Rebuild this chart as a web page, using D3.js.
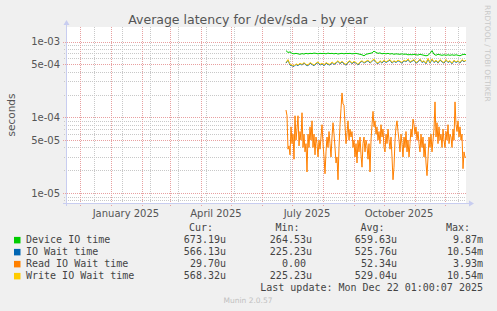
<!DOCTYPE html>
<html><head><meta charset="utf-8">
<script src="https://cdn.jsdelivr.net/npm/d3@7/dist/d3.min.js"></script>
<style>
html,body{margin:0;padding:0;background:#f0f0f0;}
svg{display:block;}
text{font-family:"DejaVu Sans",sans-serif;}
.mono{font-family:"DejaVu Sans Mono",monospace;white-space:pre;}
</style></head>
<body>
<svg id="chart" width="497" height="311"></svg>
<script>
// ---- data ----
const title = "Average latency for /dev/sda - by year";
const yAxisLabel = "seconds";
const rangeEnd = "2025-12-22T01:00:07";
const dataStart = "2025-06-25T01:00:00";
const yTickValues = [1e-3, 5e-4, 1e-4, 5e-5, 1e-5];
const yTickLabels = ["1e-03", "5e-04", "1e-04", "5e-05", "1e-05"];
const xLabelDates = ["2025-01-16", "2025-04-16", "2025-07-16", "2025-10-16"];
const xLabels = ["January 2025", "April 2025", "July 2025", "October 2025"];

const seriesNames = ["Device IO time", "IO Wait time", "Read IO Wait time", "Write IO Wait time"];
const seriesColors = ["#00cc00", "#0066b3", "#ff8000", "#ffcc00"];
const curValues = ["673.19u", "566.13u", "29.70u", "568.32u"];
const minValues = ["264.53u", "225.23u", "0.00 ", "225.23u"];
const avgValues = ["659.63u", "525.76u", "52.34u", "529.04u"];
const maxValues = ["9.87m", "10.54m", "3.93m", "10.54m"];
const lastUpdate = "Last update: Mon Dec 22 01:00:07 2025";
const footer = "Munin 2.0.57";
const watermark = "RRDTOOL / TOBI OETIKER";

// Device IO time, every 2 days from dataStart
const deviceIO = [
 7.6e-4,7.2e-4,7.3e-4,7.0e-4,6.9e-4,7.0e-4,6.9e-4,6.8e-4,6.95e-4,6.85e-4,
 7.0e-4,6.9e-4,7.0e-4,6.95e-4,7.05e-4,7.0e-4,6.9e-4,7.0e-4,6.95e-4,7.0e-4,
 6.9e-4,7.05e-4,6.95e-4,7.0e-4,6.9e-4,7.0e-4,6.85e-4,6.95e-4,7.0e-4,6.9e-4,
 7.0e-4,6.95e-4,7.0e-4,6.9e-4,6.95e-4,7.0e-4,6.9e-4,6.8e-4,6.7e-4,6.5e-4,
 6.8e-4,6.9e-4,7.0e-4,7.1e-4,7.5e-4,7.2e-4,7.0e-4,7.1e-4,6.9e-4,7.0e-4,
 6.9e-4,7.0e-4,6.85e-4,6.95e-4,6.8e-4,6.9e-4,6.85e-4,6.8e-4,6.9e-4,6.8e-4,
 6.85e-4,6.7e-4,6.75e-4,6.7e-4,6.8e-4,6.7e-4,6.65e-4,6.8e-4,6.7e-4,6.6e-4,
 6.5e-4,6.6e-4,7.0e-4,7.6e-4,6.8e-4,6.6e-4,6.8e-4,6.7e-4,6.6e-4,6.7e-4,
 6.6e-4,6.7e-4,6.6e-4,6.7e-4,6.6e-4,6.7e-4,6.6e-4,6.5e-4,6.7e-4,6.8e-4,
 6.73e-4
];
// IO Wait time, every 2 days
const ioWait = [
 5.2e-4,5.7e-4,4.9e-4,4.8e-4,4.7e-4,5.0e-4,4.8e-4,5.1e-4,4.9e-4,5.2e-4,
 4.9e-4,4.8e-4,5.2e-4,5.0e-4,4.8e-4,5.1e-4,5.3e-4,4.9e-4,5.1e-4,4.8e-4,
 5.2e-4,5.0e-4,4.9e-4,5.3e-4,5.0e-4,5.2e-4,5.5e-4,5.1e-4,5.4e-4,5.1e-4,
 4.9e-4,5.3e-4,5.5e-4,5.1e-4,5.4e-4,5.2e-4,4.9e-4,5.3e-4,5.5e-4,5.2e-4,
 5.4e-4,5.6e-4,5.2e-4,5.5e-4,5.8e-4,5.3e-4,5.1e-4,5.5e-4,5.2e-4,5.6e-4,
 5.3e-4,5.5e-4,5.7e-4,5.2e-4,5.5e-4,5.3e-4,5.6e-4,5.4e-4,5.2e-4,5.6e-4,
 5.4e-4,5.8e-4,5.3e-4,5.5e-4,5.7e-4,5.2e-4,5.4e-4,5.8e-4,5.3e-4,5.5e-4,
 5.1e-4,5.9e-4,5.2e-4,5.8e-4,5.3e-4,5.6e-4,5.2e-4,5.7e-4,5.4e-4,5.2e-4,
 5.7e-4,5.3e-4,5.5e-4,5.1e-4,5.6e-4,5.3e-4,5.5e-4,5.2e-4,5.7e-4,5.4e-4,
 5.66e-4
];
// Read IO Wait time, daily
const readWait = [
 1.25e-4,1.05e-4,3.8e-5,4.2e-5,3.2e-5,7.5e-5,4.5e-5,6.0e-5,2.8e-5,1.05e-4,
 5.0e-5,7.0e-5,1.05e-4,4.2e-5,6.5e-5,5.0e-5,1.15e-4,4.0e-5,6.0e-5,3.5e-5,
 4.5e-5,1.9e-5,6.0e-5,4.0e-5,7.5e-5,5.0e-5,9.0e-5,4.0e-5,6.0e-5,3.2e-5,
 5.5e-5,4.5e-5,3.0e-5,5.0e-5,3.8e-5,5.5e-5,8.0e-5,4.5e-5,3.0e-5,1.8e-5,
 3.5e-5,5.5e-5,4.0e-5,6.5e-5,4.5e-5,3.0e-5,5.5e-5,8.5e-5,6.0e-5,4.0e-5,
 2.5e-5,3.0e-5,1.5e-5,4.0e-5,8.0e-5,1.3e-4,2.1e-4,1.5e-4,1.45e-4,8.0e-5,
 4.5e-5,6.0e-5,9.0e-5,5.0e-5,7.0e-5,5.5e-5,6.5e-5,4.0e-5,5.0e-5,3.0e-5,
 4.5e-5,2.5e-5,5.0e-5,3.5e-5,5.5e-5,3.2e-5,2.2e-5,4.5e-5,5.5e-5,3.5e-5,
 5.0e-5,4.2e-5,2.8e-5,4.5e-5,1.9e-5,5.0e-5,8.0e-5,1.2e-4,7.5e-5,9.0e-5,
 6.0e-5,7.5e-5,5.0e-5,6.5e-5,4.5e-5,8.0e-5,5.5e-5,7.0e-5,4.0e-5,3.5e-5,
 6.0e-5,4.5e-5,7.0e-5,5.0e-5,3.8e-5,5.5e-5,3.0e-5,1.5e-5,2.2e-5,5.0e-5,
 7.5e-5,9.0e-5,6.5e-5,5.0e-5,3.5e-5,6.0e-5,4.5e-5,3.0e-5,5.5e-5,4.0e-5,
 6.5e-5,3.5e-5,5.0e-5,3.0e-5,4.5e-5,7.0e-5,5.5e-5,9.5e-5,8.0e-5,6.0e-5,
 7.5e-5,5.0e-5,6.5e-5,4.5e-5,3.5e-5,6.0e-5,4.0e-5,5.5e-5,3.0e-5,4.5e-5,
 2.5e-5,1.7e-5,3.0e-5,5.5e-5,4.0e-5,6.0e-5,3.5e-5,5.0e-5,7.0e-5,1.6e-4,
 5.5e-5,8.5e-5,4.5e-5,7.5e-5,5.0e-5,6.0e-5,4.0e-5,7.0e-5,5.0e-5,4.0e-5,
 6.5e-5,5.0e-5,8.0e-5,4.5e-5,6.0e-5,5.5e-5,4.0e-5,7.0e-5,5.0e-5,1.6e-4,
 8.0e-5,6.5e-5,9.0e-5,5.5e-5,7.5e-5,5.0e-5,6.0e-5,2.1e-5,3.5e-5,2.97e-5,
 2.97e-5
];
// Write IO Wait time, every 2 days
const writeWait = [
 5.3e-4,5.8e-4,5.0e-4,4.9e-4,4.8e-4,5.1e-4,4.9e-4,5.2e-4,5.0e-4,5.3e-4,
 5.0e-4,4.9e-4,5.3e-4,5.1e-4,4.9e-4,5.2e-4,5.4e-4,5.0e-4,5.2e-4,4.9e-4,
 5.3e-4,5.1e-4,5.0e-4,5.4e-4,5.1e-4,5.3e-4,5.6e-4,5.2e-4,5.5e-4,5.2e-4,
 5.0e-4,5.4e-4,5.6e-4,5.2e-4,5.5e-4,5.3e-4,5.0e-4,5.4e-4,5.6e-4,5.3e-4,
 5.5e-4,5.7e-4,5.3e-4,5.6e-4,5.9e-4,5.4e-4,5.2e-4,5.6e-4,5.3e-4,5.7e-4,
 5.4e-4,5.6e-4,5.8e-4,5.3e-4,5.6e-4,5.4e-4,5.7e-4,5.5e-4,5.3e-4,5.7e-4,
 5.5e-4,5.9e-4,5.4e-4,5.6e-4,5.8e-4,5.3e-4,5.5e-4,5.9e-4,5.4e-4,5.6e-4,
 5.2e-4,6.0e-4,5.3e-4,5.9e-4,5.4e-4,5.7e-4,5.3e-4,5.8e-4,5.5e-4,5.3e-4,
 5.8e-4,5.4e-4,5.6e-4,5.2e-4,5.7e-4,5.4e-4,5.6e-4,5.3e-4,5.8e-4,5.5e-4,
 5.68e-4
];

// ---- chart ----
const svg = d3.select("#chart");
const W = 497, H = 311;
const plot = {left: 66, right: 466, top: 27, bottom: 203};
const DAY = 86400000;
const end = new Date(rangeEnd);
const start = new Date(end.getTime() - 400 * DAY);
const x = d3.scaleTime().domain([start, end]).range([plot.left, plot.right]);
const y = d3.scaleLog().domain([7.4e-6, 1.56e-3]).range([plot.bottom, plot.top]);

svg.append("rect").attr("width", W).attr("height", H).attr("fill", "#f0f0f0");
svg.append("rect").attr("x", plot.left).attr("y", plot.top)
  .attr("width", plot.right - plot.left).attr("height", plot.bottom - plot.top).attr("fill", "#fff");

const g = svg.append("g");
// horizontal minor grid
const yMinor = [];
[1e-6, 1e-5, 1e-4, 1e-3].forEach(dec => { for (let k = 1; k <= 9; k++) { const v = dec * k; if (v >= y.domain()[0] && v <= y.domain()[1]) yMinor.push(v); } });
const yMajorSet = new Set(yTickValues.map(String));
g.selectAll(".hmin").data(yMinor.filter(v => !yMajorSet.has(String(v)))).join("line")
  .attr("x1", plot.left - 2).attr("x2", plot.right)
  .attr("y1", d => Math.round(y(d)) + 0.5).attr("y2", d => Math.round(y(d)) + 0.5)
  .attr("stroke", "#c8c8c8").attr("stroke-width", 1).attr("stroke-dasharray", "1,1");
// vertical minor grid (4-weekly)
const vMinor = d3.timeDay.range(new Date("2024-12-15T00:00:00"), end, 28);
g.selectAll(".vmin").data(vMinor).join("line")
  .attr("x1", d => Math.round(x(d)) + 0.5).attr("x2", d => Math.round(x(d)) + 0.5)
  .attr("y1", plot.top).attr("y2", plot.bottom + 2)
  .attr("stroke", "#c8c8c8").attr("stroke-dasharray", "1,1");
// vertical major grid (monthly)
const months = d3.timeMonth.range(start, end);
g.selectAll(".vmaj").data(months).join("line")
  .attr("x1", d => Math.round(x(d)) + 0.5).attr("x2", d => Math.round(x(d)) + 0.5)
  .attr("y1", plot.top).attr("y2", plot.bottom + 3)
  .attr("stroke", "#e8a0a0").attr("stroke-dasharray", "1,1");
// horizontal major grid
g.selectAll(".hmaj").data(yTickValues).join("line")
  .attr("x1", plot.left - 3).attr("x2", plot.right)
  .attr("y1", d => Math.round(y(d)) + 0.5).attr("y2", d => Math.round(y(d)) + 0.5)
  .attr("stroke", "#e8a0a0").attr("stroke-dasharray", "1,1");

// y tick labels
svg.selectAll(".ylab").data(yTickValues).join("text")
  .attr("x", plot.left - 6).attr("y", d => y(d) + 3.7)
  .attr("text-anchor", "end").attr("font-size", 10).attr("fill", "#555")
  .text((d, i) => yTickLabels[i]);
// x labels
svg.selectAll(".xlab").data(xLabelDates).join("text")
  .attr("x", d => x(new Date(d + "T00:00:00"))).attr("y", 216.5)
  .attr("text-anchor", "middle").attr("font-size", 10).attr("fill", "#555")
  .text((d, i) => xLabels[i]);

// axes
const axisCol = "#c8cdf0";
svg.append("line").attr("x1", plot.left + 0.5).attr("x2", plot.left + 0.5)
  .attr("y1", plot.bottom + 3).attr("y2", plot.top - 5).attr("stroke", axisCol);
svg.append("path").attr("d", `M${plot.left - 2.5},${plot.top - 2} L${plot.left + 3.5},${plot.top - 2} L${plot.left + 0.5},${plot.top - 7} Z`).attr("fill", axisCol);
svg.append("line").attr("x1", plot.left - 3).attr("x2", plot.right + 4)
  .attr("y1", plot.bottom + 0.5).attr("y2", plot.bottom + 0.5).attr("stroke", axisCol);
svg.append("path").attr("d", `M${plot.right + 3},${plot.bottom - 2.5} L${plot.right + 3},${plot.bottom + 3.5} L${plot.right + 8},${plot.bottom + 0.5} Z`).attr("fill", axisCol);

// series
const t0 = new Date(dataStart).getTime();
function pts(arr, stepDays) { return arr.map((v, i) => ({t: new Date(t0 + i * stepDays * DAY), v})); }
const line = d3.line().x(d => x(d.t)).y(d => y(d.v));
const series = [pts(deviceIO, 2), pts(ioWait, 2), pts(readWait, 1), pts(writeWait, 2)];
const lg = svg.append("g");
series.forEach((s, i) => {
  lg.append("path").datum(s).attr("d", line).attr("fill", "none")
    .attr("stroke", seriesColors[i]).attr("stroke-width", 1).attr("stroke-linejoin", "round");
});

// title
svg.append("text").attr("x", 248).attr("y", 23.5).attr("text-anchor", "middle")
  .attr("font-size", 12.5).attr("fill", "#555").text(title);
// y axis label
svg.append("text").attr("transform", "translate(14.5,115) rotate(-90)")
  .attr("text-anchor", "middle").attr("font-size", 10.5).attr("fill", "#555").text(yAxisLabel);
// watermark
svg.append("text").attr("transform", "translate(485,5) rotate(90)")
  .attr("text-anchor", "start").attr("font-size", 7.5).attr("fill", "#c8c8c8").text(watermark);

// legend
const leg = svg.append("g").attr("font-size", 10).attr("fill", "#444");
const heads = [["Cur:", 213], ["Min:", 299.5], ["Avg:", 384.5], ["Max:", 470]];
heads.forEach(h => leg.append("text").attr("class", "mono").attr("x", h[1]).attr("y", 231)
  .attr("text-anchor", "end").text(h[0]));
const cols = [[curValues, 226], [minValues, 312], [avgValues, 397], [maxValues, 483]];
seriesNames.forEach((name, i) => {
  const yy = 243.4 + i * 12;
  leg.append("rect").attr("x", 14).attr("y", yy - 6.5).attr("width", 6.5).attr("height", 6.5).attr("fill", seriesColors[i]);
  leg.append("text").attr("class", "mono").attr("x", 26).attr("y", yy).text(name);
  cols.forEach(c => leg.append("text").attr("class", "mono").attr("x", c[1]).attr("y", yy)
    .attr("text-anchor", "end").text(c[0][i]));
});
leg.append("text").attr("class", "mono").attr("x", 483).attr("y", 291.3).attr("text-anchor", "end").text(lastUpdate);
svg.append("text").attr("x", 248).attr("y", 303).attr("text-anchor", "middle")
  .attr("font-size", 7.5).attr("fill", "#c0c0c0").text(footer);
</script>
</body></html>
